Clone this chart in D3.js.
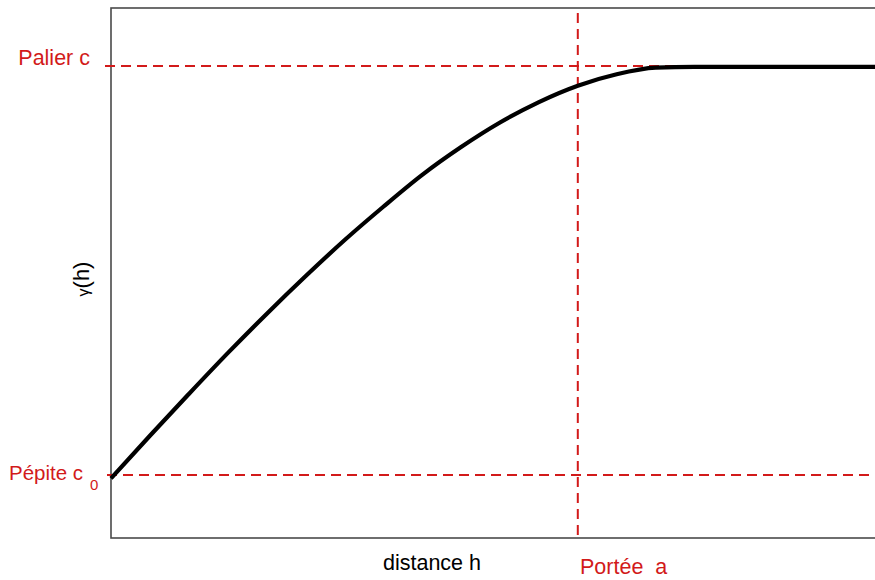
<!DOCTYPE html>
<html>
<head>
<meta charset="utf-8">
<script src="https://cdn.jsdelivr.net/npm/d3@7"></script>
<style>
  html, body { margin: 0; padding: 0; background: #fff; }
  svg { display: block; }
  text { font-family: "Liberation Sans", Arial, sans-serif; }
</style>
</head>
<body>
<svg id="chart" width="875" height="580"></svg>
<script>
// Experimental variogram: distance h and semivariance gamma(h)
const hValues     = [0, 0.5, 1, 1.5, 2, 2.5, 3, 3.5, 4, 4.5, 5, 5.5, 6, 6.5, 7, 7.5, 8, 9, 10];
const gammaValues = [0.96, 1.48, 1.99, 2.49, 2.97, 3.43, 3.87, 4.28, 4.67, 5.01, 5.31, 5.56, 5.76, 5.90, 5.98, 5.99, 5.99, 5.99, 5.99];

// Model parameters marked on the chart
const nugget = 1;      // pépite c0
const sill = 6;        // palier c
const rangeA = 6;      // portée a

const xDomain = [0, 10];
const yDomain = [0.23, 6.71];

const svg = d3.select("#chart");
const red = "#d21a1a";

const x = d3.scaleLinear().domain(xDomain).range([111, 889]);
const y = d3.scaleLinear().domain(yDomain).range([538, 8]);

// Plot frame (right side runs past the window)
svg.append("rect")
  .attr("x", x(xDomain[0])).attr("y", y(yDomain[1]))
  .attr("width", x(xDomain[1]) - x(xDomain[0]))
  .attr("height", y(yDomain[0]) - y(yDomain[1]))
  .attr("fill", "none").attr("stroke", "#4a4a4a").attr("stroke-width", 1.6);

// Reference lines for sill, nugget and range
svg.append("line")
  .attr("x1", x(xDomain[0]) - 6).attr("x2", x(xDomain[1]))
  .attr("y1", y(sill)).attr("y2", y(sill))
  .attr("stroke", red).attr("stroke-width", 2).attr("stroke-dasharray", "10,6");

svg.append("line")
  .attr("x1", x(xDomain[0]) - 4).attr("x2", x(xDomain[1]))
  .attr("y1", y(nugget)).attr("y2", y(nugget))
  .attr("stroke", red).attr("stroke-width", 2).attr("stroke-dasharray", "10,6");

svg.append("line")
  .attr("x1", x(rangeA)).attr("x2", x(rangeA))
  .attr("y1", 13).attr("y2", y(yDomain[0]))
  .attr("stroke", red).attr("stroke-width", 2).attr("stroke-dasharray", "10,6");

// Variogram curve
const pts = hValues.map((h, i) => [h, gammaValues[i]]);
svg.append("path")
  .datum(pts)
  .attr("fill", "none")
  .attr("stroke", "#000")
  .attr("stroke-width", 4.2)
  .attr("stroke-linejoin", "round")
  .attr("d", d3.line().x(d => x(d[0])).y(d => y(d[1])).curve(d3.curveMonotoneX));

// Labels
svg.append("text")
  .attr("x", 90).attr("y", y(sill) - 1)
  .attr("text-anchor", "end")
  .attr("fill", red).attr("font-size", 21.5)
  .text("Palier c");

const pep = svg.append("text")
  .attr("x", 9).attr("y", y(nugget) + 5)
  .attr("fill", red).attr("font-size", 20.5);
pep.append("tspan").text("Pépite c");
pep.append("tspan").attr("font-size", 15).attr("dx", 7).attr("dy", 10).text("0");

svg.append("text")
  .attr("x", 432).attr("y", 570)
  .attr("text-anchor", "middle")
  .attr("fill", "#000").attr("font-size", 21.5)
  .text("distance h");

svg.append("text")
  .attr("x", 580).attr("y", 574)
  .attr("fill", red).attr("font-size", 21.5)
  .attr("xml:space", "preserve")
  .style("white-space", "pre")
  .text("Portée  a");

const yl = svg.append("text")
  .attr("transform", "translate(89,279) rotate(-90)")
  .attr("text-anchor", "middle")
  .attr("fill", "#000").attr("font-size", 22);
yl.append("tspan").attr("font-size", 16).text("γ");
yl.append("tspan").text("(h)");
</script>
</body>
</html>
